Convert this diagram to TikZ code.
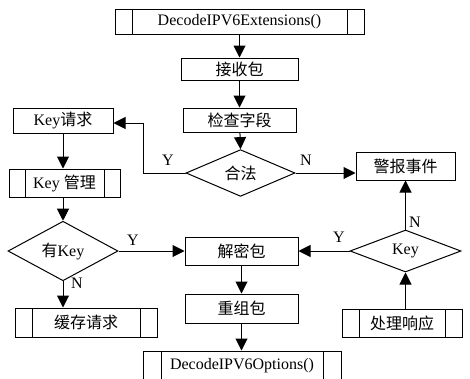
\documentclass[tikz,border=0pt]{standalone}
\usepackage{fontspec}
\setmainfont{Liberation Serif}
\newfontfamily\cjk{Noto Sans CJK SC}
\usetikzlibrary{shapes.geometric,arrows.meta}
\begin{document}
\begin{tikzpicture}[x=1pt,y=-1pt,
  font=\fontsize{16}{16}\selectfont,
  line width=1pt,
  base/.style={draw,inner sep=0pt,rectangle},
  proc/.style={base},
  sub/.style={base,path picture={
     \draw[line width=1pt] ([xshift=#1]path picture bounding box.north west) -- ([xshift=#1]path picture bounding box.south west);
     \draw[line width=1pt] ([xshift=-#1]path picture bounding box.north east) -- ([xshift=-#1]path picture bounding box.south east);}},
  dec/.style={draw,diamond,inner sep=0pt},
  arr/.style={-{Triangle[length=12pt,width=12pt]}},
  lab/.style={inner sep=0pt}
]
\useasboundingbox (0,0) rectangle (470,378);
\node[sub=17pt,minimum width=249pt,minimum height=25pt] (ext) at (239.5,21.5) {DecodeIPV6Extensions()};
\node[proc,minimum width=117pt,minimum height=22pt] (recv) at (239.5,69) {\cjk 接收包};
\node[proc,minimum width=113pt,minimum height=24pt] (check) at (239.5,120) {\cjk 检查字段};
\node[dec,minimum width=109pt,minimum height=42pt] (legal) at (240.5,173) {\cjk 合法};
\node[proc,minimum width=100pt,minimum height=25pt] (keyreq) at (63,120.5) {Key{\cjk 请求}};
\node[proc,minimum width=99pt,minimum height=28pt] (alarm) at (405.5,166) {\cjk 警报事件};
\node[sub=16pt,minimum width=111pt,minimum height=28pt] (keymgr) at (64.5,183) {Key {\cjk 管理}};
\node[dec,minimum width=110pt,minimum height=45pt] (haskey) at (63,251) {{\cjk 有}Key};
\node[proc,minimum width=113pt,minimum height=28pt] (decrypt) at (241.5,251) {\cjk 解密包};
\node[dec,minimum width=111pt,minimum height=42pt] (key) at (405.5,251) {Key};
\node[proc,minimum width=113pt,minimum height=29pt] (reasm) at (241.5,308.5) {\cjk 重组包};
\node[sub=17pt,minimum width=120pt,minimum height=28pt] (procr) at (402,323) {\cjk 处理响应};
\node[sub=17pt,minimum width=142pt,minimum height=29pt] (cache) at (86,322.5) {\cjk 缓存请求};
\node[sub=18pt,minimum width=198pt,minimum height=30pt] (opts) at (242,366) {DecodeIPV6Options()};

\coordinate (c1) at (143,123);
\draw[arr] (ext) -- (recv);
\draw[arr] (recv) -- (check);
\draw[arr] (check) -- (legal.north);
\draw[arr] (legal.west) -| (c1) -- (c1 -| keyreq.east);
\draw[arr] (legal.east) -- (legal.east -| alarm.west);
\draw[arr] (keyreq.south) -- (keyreq.south |- keymgr.north);
\draw[arr] (keyreq.south |- keymgr.south) -- (haskey.north);
\draw[arr] (haskey.east) -- (haskey.east -| decrypt.west);
\draw[arr] (haskey.south) -- (haskey.south |- cache.north);
\draw[arr] (key.west) -- (key.west -| decrypt.east);
\draw[arr] (key.north) -- (key.north |- alarm.south);
\draw[arr] (key.south |- procr.north) -- (key.south);
\draw[arr] (decrypt) -- (reasm);
\draw[arr] (reasm) -- (reasm.south |- opts.north);

\node[lab] (y1) at (168,160) {Y};
\node[lab] (n1) at (306,160) {N};
\node[lab] (y2) at (133,240) {Y};
\node[lab] (n2) at (77,283) {N};
\node[lab] (y3) at (339,237) {Y};
\node[lab] (n3) at (415,222) {N};
\end{tikzpicture}
\end{document}
